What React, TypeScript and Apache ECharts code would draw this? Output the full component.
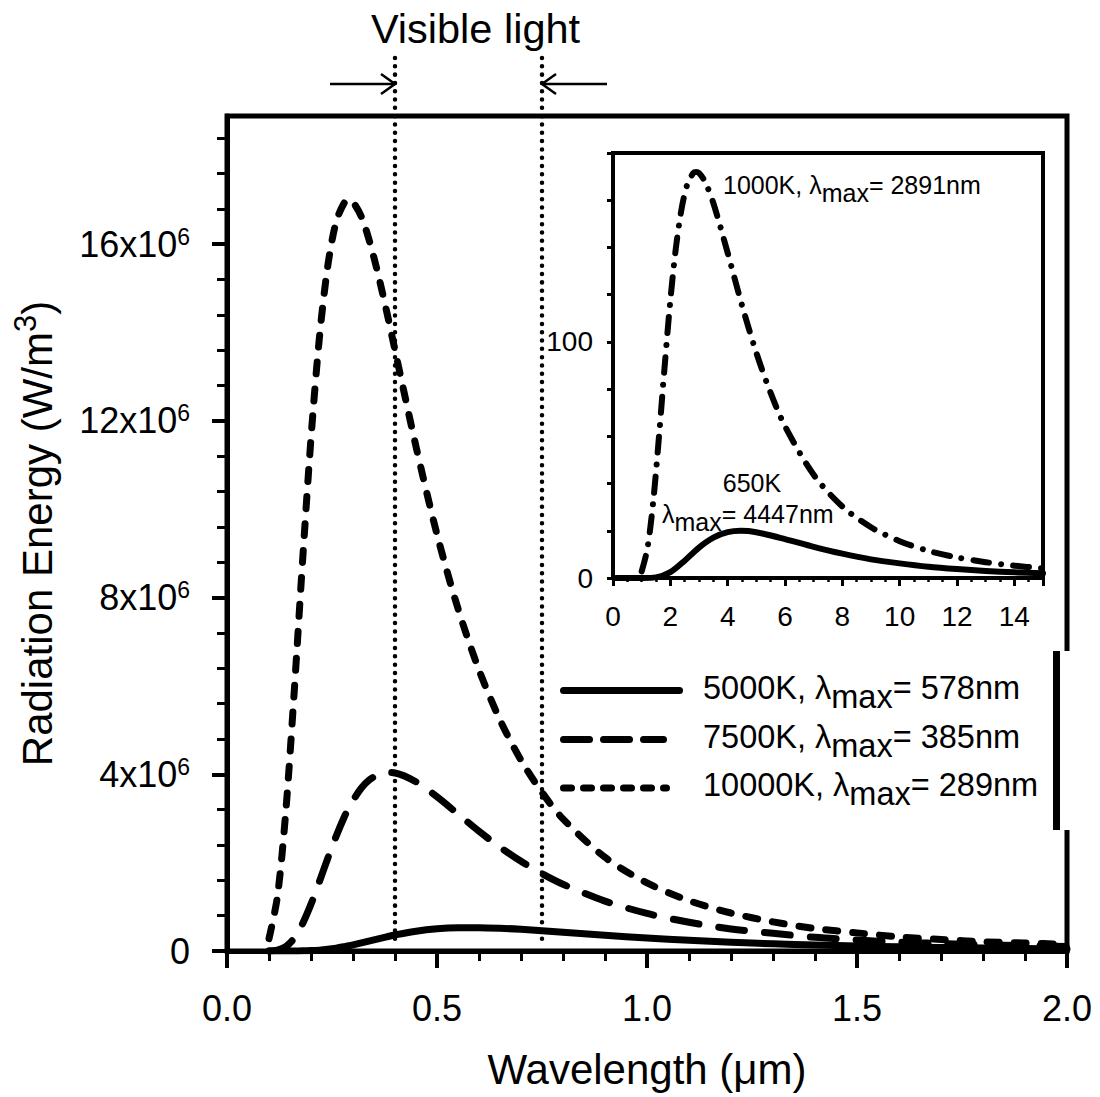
import React, { useEffect, useRef } from "react";
import * as echarts from "echarts";

const FONT = '"Liberation Sans", Arial, Helvetica, sans-serif';

// Main panel: wavelength (µm) and spectral energy (W/m³)
const wavelengthMain = [
  0.1, 0.12, 0.14, 0.16, 0.18, 0.2, 0.22, 0.24, 0.26, 0.28, 0.29, 0.3, 0.32, 0.34, 0.36, 0.38, 0.4,
  0.45, 0.5, 0.55, 0.6, 0.65, 0.7, 0.75, 0.8, 0.9, 1.0, 1.1, 1.2, 1.3, 1.4, 1.5, 1.6, 1.7, 1.8, 1.9, 2.0,
];
const energy5000K = [
  0, 0, 0, 0.0007e6, 0.003e6, 0.009e6, 0.02e6, 0.039e6, 0.065e6, 0.099e6, 0.118e6, 0.139e6, 0.183e6,
  0.23e6, 0.276e6, 0.321e6, 0.363e6, 0.448e6, 0.502e6, 0.527e6, 0.529e6, 0.515e6, 0.49e6, 0.459e6,
  0.425e6, 0.357e6, 0.295e6, 0.242e6, 0.199e6, 0.163e6, 0.135e6, 0.112e6, 0.094e6, 0.079e6, 0.066e6,
  0.056e6, 0.048e6,
];
const energy7500K = [
  0, 0.02e6, 0.1e6, 0.29e6, 0.62e6, 1.06e6, 1.57e6, 2.1e6, 2.6e6, 3.05e6, 3.24e6, 3.41e6, 3.69e6, 3.88e6,
  3.99e6, 4.04e6, 4.03e6, 3.83e6, 3.49e6, 3.1e6, 2.71e6, 2.35e6, 2.03e6, 1.75e6, 1.51e6, 1.13e6, 0.85e6,
  0.65e6, 0.5e6, 0.4e6, 0.31e6, 0.25e6, 0.2e6, 0.17e6, 0.14e6, 0.12e6, 0.1e6,
];
const energy10000K = [
  0.28e6, 1.23e6, 3.16e6, 5.86e6, 8.84e6, 11.61e6, 13.88e6, 15.51e6, 16.51e6, 16.95e6, 17.0e6, 16.95e6,
  16.62e6, 16.04e6, 15.31e6, 14.48e6, 13.6e6, 11.42e6, 9.43e6, 7.75e6, 6.36e6, 5.23e6, 4.32e6, 3.59e6,
  2.99e6, 2.12e6, 1.54e6, 1.14e6, 0.86e6, 0.66e6, 0.51e6, 0.41e6, 0.32e6, 0.26e6, 0.21e6, 0.18e6, 0.15e6,
];

// Inset panel: infrared curves
const wavelength1000K = [
  1.0, 1.2, 1.4, 1.6, 1.8, 2.0, 2.2, 2.4, 2.6, 2.8, 2.9, 3.0, 3.2, 3.5, 4.0, 4.5, 5.0, 5.5, 6.0, 7.0, 8.0,
  9.0, 10, 11, 12, 13, 14, 15,
];
const energy1000K = [
  2.8, 12.5, 32.0, 59.3, 89.4, 117.5, 140.4, 156.9, 167.0, 171.5, 172.0, 171.5, 168.1, 158.8, 137.7, 115.5,
  95.4, 78.4, 64.3, 43.7, 30.3, 21.5, 15.6, 11.5, 8.7, 6.7, 5.2, 4.1,
];
const wavelength650K = [0.1, 0.5, 1.0, 1.5, 2.0, 2.5, 3.0, 3.5, 4.0, 4.45, 5.0, 6.0, 7.0, 8.0, 9.0, 10, 11, 12, 13, 14, 15];
const energy650K = [0, 0, 0, 0.26, 2.45, 7.33, 12.9, 17.1, 19.4, 20.0, 19.4, 16.5, 13.2, 10.3, 7.9, 6.2, 4.8, 3.8, 3.0, 2.4, 1.96];

// Visible band limits (µm)
const visibleBand = [0.4, 0.75];

const mainYTicks = [0, 4e6, 8e6, 12e6, 16e6];

const legendEntries = [
  { temperature: "5000K", peak: "578nm", dash: null as number[] | null, end: 679.5 },
  { temperature: "7500K", peak: "385nm", dash: [26, 14], end: 663.5 },
  { temperature: "10000K", peak: "289nm", dash: [8, 12], end: 666.5 },
];
const legendRowsY = [690.5, 739.5, 788];

const pairs = (xs: number[], ys: number[]) => xs.map((x, i) => [x, ys[i]]);

const black = "#000";

function buildOption(): echarts.EChartsOption {
  return {
    animation: false,
    backgroundColor: "#fff",
    grid: [
      {
        left: 227,
        top: 116,
        width: 840,
        height: 835,
        containLabel: false,
        outerBoundsMode: "none",
        show: true,
        borderColor: black,
        borderWidth: 5,
        backgroundColor: "transparent",
      } as any,
      {
        left: 613,
        top: 153,
        width: 430,
        height: 425,
        containLabel: false,
        outerBoundsMode: "none",
        show: true,
        borderColor: black,
        borderWidth: 4,
        backgroundColor: "#fff",
      } as any,
    ],
    xAxis: [
      {
        type: "value",
        gridIndex: 0,
        min: 0,
        max: 2,
        interval: 0.5,
        axisLine: { show: true, onZero: false, lineStyle: { color: black, width: 5 } },
        axisTick: { show: true, inside: false, length: 17, lineStyle: { color: black, width: 4 } },
        minorTick: { show: true, splitNumber: 5, length: 10, lineStyle: { color: black, width: 3 } },
        splitLine: { show: false },
        axisLabel: { fontSize: 36, color: black, fontFamily: FONT, margin: 39, formatter: (v: number) => v.toFixed(1) },
        name: "Wavelength (μm)",
        nameLocation: "middle",
        nameGap: 97,
        nameTextStyle: { fontSize: 42, color: black, fontFamily: FONT },
      },
      {
        type: "value",
        gridIndex: 1,
        min: 0,
        max: 15,
        interval: 2,
        axisLine: { show: true, onZero: false, lineStyle: { color: black, width: 4 } },
        axisTick: { show: true, inside: false, length: 8, lineStyle: { color: black, width: 3 } },
        minorTick: { show: true, splitNumber: 4, length: 4, lineStyle: { color: black, width: 2.5 } },
        splitLine: { show: false },
        axisLabel: {
          fontSize: 28,
          color: black,
          fontFamily: FONT,
          margin: 24,
          formatter: (v: number) => (v % 2 === 0 ? String(v) : ""),
        },
      },
    ],
    yAxis: [
      {
        type: "value",
        gridIndex: 0,
        min: 0,
        max: 18.9e6,
        interval: 4e6,
        axisLine: { show: true, onZero: false, lineStyle: { color: black, width: 5 } },
        axisTick: { show: true, inside: false, length: 15, lineStyle: { color: black, width: 4 }, customValues: mainYTicks } as any,
        minorTick: { show: true, splitNumber: 5, length: 10, lineStyle: { color: black, width: 3 } },
        splitLine: { show: false },
        axisLabel: {
          fontSize: 36,
          color: black,
          fontFamily: FONT,
          margin: 37,
          formatter: (v: number) => {
            if (!mainYTicks.includes(v)) return "";
            return v === 0 ? "0" : `${v / 1e6}x10{sup|6}`;
          },
          rich: {
            sup: { fontSize: 23, fontFamily: FONT, color: black, padding: [0, 0, 15, 0] },
          },
        },
        name: "Radiation Energy (W/m{sup|3})",
        nameLocation: "middle",
        nameGap: 162,
        nameTextStyle: {
          fontSize: 42,
          color: black,
          fontFamily: FONT,
          rich: { sup: { fontSize: 31, fontFamily: FONT, color: black, padding: [0, 0, 24, 0] } },
        },
      },
      {
        type: "value",
        gridIndex: 1,
        min: 0,
        max: 180,
        interval: 20,
        axisLine: { show: true, onZero: false, lineStyle: { color: black, width: 4 } },
        axisTick: { show: true, inside: false, length: 6, lineStyle: { color: black, width: 3 } },
        splitLine: { show: false },
        axisLabel: {
          fontSize: 28,
          color: black,
          fontFamily: FONT,
          margin: 20,
          formatter: (v: number) => (v === 0 || v === 100 ? String(v) : ""),
        },
      },
    ],
    series: [
      {
        name: "5000K",
        type: "line",
        xAxisIndex: 0,
        yAxisIndex: 0,
        data: pairs(wavelengthMain, energy5000K),
        showSymbol: false,
        smooth: 0.3,
        lineStyle: { color: black, width: 7, cap: "round", join: "round" },
        z: 3,
      },
      {
        name: "7500K",
        type: "line",
        xAxisIndex: 0,
        yAxisIndex: 0,
        data: pairs(wavelengthMain, energy7500K),
        showSymbol: false,
        smooth: 0.3,
        lineStyle: { color: black, width: 7, type: [26, 20], cap: "round", join: "round" },
        z: 3,
      },
      {
        name: "10000K",
        type: "line",
        xAxisIndex: 0,
        yAxisIndex: 0,
        data: pairs(wavelengthMain, energy10000K),
        showSymbol: false,
        smooth: 0.3,
        lineStyle: { color: black, width: 7, type: [12, 15], cap: "round", join: "round" },
        z: 3,
      },
      {
        name: "1000K",
        type: "line",
        xAxisIndex: 1,
        yAxisIndex: 1,
        data: pairs(wavelength1000K, energy1000K),
        showSymbol: false,
        smooth: 0.3,
        lineStyle: { color: black, width: 6, type: [16, 12, 0.01, 12], cap: "round", join: "round" },
        z: 3,
      },
      {
        name: "650K",
        type: "line",
        xAxisIndex: 1,
        yAxisIndex: 1,
        data: pairs(wavelength650K, energy650K),
        showSymbol: false,
        smooth: 0.3,
        lineStyle: { color: black, width: 6, cap: "round", join: "round" },
        z: 3,
      },
    ],
  };
}

function richLabel(main: string, peak: string) {
  return `{t|${main}, λ}{s|max}{t|= ${peak}}`;
}

function buildGraphics(chart: echarts.ECharts) {
  const bandX = visibleBand.map((v) => chart.convertToPixel({ xAxisIndex: 0 }, v) as number);
  const arrowY = 84;
  const elements: any[] = [];

  // dotted verticals marking the visible band
  bandX.forEach((x) => {
    elements.push({
      type: "line",
      z: 100,
      shape: { x1: x, y1: 58, x2: x, y2: 943 },
      style: { stroke: black, lineWidth: 4.5, lineDash: [0.01, 8.3], lineCap: "round" },
    });
  });

  // arrows pointing at the band limits
  const [xl, xr] = bandX;
  const arrow = (tip: number, dir: number) => [
    {
      type: "polyline",
      z: 100,
      shape: { points: [[tip - dir * 65, arrowY], [tip, arrowY]] },
      style: { stroke: black, lineWidth: 2.5, fill: null },
    },
    {
      type: "polyline",
      z: 100,
      shape: { points: [[tip - dir * 14, arrowY - 10], [tip, arrowY], [tip - dir * 14, arrowY + 10]] },
      style: { stroke: black, lineWidth: 2.5, fill: null },
    },
  ];
  elements.push(...arrow(xl, 1), ...arrow(xr, -1));

  elements.push({
    type: "text",
    z: 100,
    style: {
      x: (xl + xr) / 2 + 7,
      y: 28,
      text: "Visible light",
      fill: black,
      fontSize: 41.5,
      fontFamily: FONT,
      align: "center",
      verticalAlign: "middle",
    },
  });

  // legend box edge
  elements.push({ type: "rect", z: 90, shape: { x: 1049, y: 651, width: 30, height: 179 }, style: { fill: "#fff" } });
  elements.push({ type: "rect", z: 91, shape: { x: 1053, y: 651, width: 7, height: 179 }, style: { fill: black } });

  // legend samples and labels
  legendEntries.forEach((entry, i) => {
    const y = legendRowsY[i];
    elements.push({
      type: "line",
      z: 100,
      shape: { x1: 563.5, y1: y, x2: entry.end, y2: y },
      style: {
        stroke: black,
        lineWidth: 7,
        lineCap: "round",
        lineDash: entry.dash ?? undefined,
      },
    });
    elements.push({
      type: "text",
      z: 100,
      style: {
        x: 703,
        y: y - 3,
        text: richLabel(entry.temperature, entry.peak),
        fill: black,
        fontSize: 32.5,
        fontFamily: FONT,
        align: "left",
        verticalAlign: "middle",
        rich: {
          t: { fontSize: 32.5, fontFamily: FONT, fill: black },
          s: { fontSize: 32.5, fontFamily: FONT, fill: black, padding: [18, 0, 0, 0] },
        },
      },
    });
  });

  // inset annotations
  const insetRich = {
    t: { fontSize: 25, fontFamily: FONT, fill: black },
    s: { fontSize: 25, fontFamily: FONT, fill: black, padding: [16, 0, 0, 0] },
  };
  elements.push({
    type: "text",
    z: 100,
    style: {
      x: 723,
      y: 185,
      text: richLabel("1000K", "2891nm"),
      fill: black,
      fontSize: 25,
      fontFamily: FONT,
      align: "left",
      verticalAlign: "middle",
      rich: insetRich,
    },
  });
  elements.push({
    type: "text",
    z: 100,
    style: {
      x: 752,
      y: 483,
      text: "650K",
      fill: black,
      fontSize: 25,
      fontFamily: FONT,
      align: "center",
      verticalAlign: "middle",
    },
  });
  elements.push({
    type: "text",
    z: 100,
    style: {
      x: 662,
      y: 514,
      text: "{t|λ}{s|max}{t|= 4447nm}",
      fill: black,
      fontSize: 25,
      fontFamily: FONT,
      align: "left",
      verticalAlign: "middle",
      rich: insetRich,
    },
  });

  return elements;
}

export default function App() {
  const ref = useRef<HTMLDivElement>(null);

  useEffect(() => {
    if (!ref.current) return;
    const chart = echarts.init(ref.current, undefined, { renderer: "svg" });
    chart.setOption(buildOption());
    chart.setOption({ graphic: buildGraphics(chart) });
    return () => chart.dispose();
  }, []);

  return (
    <div
      ref={ref}
      style={{ position: "absolute", left: 0, top: 0, width: 1100, height: 1097, background: "#fff" }}
    />
  );
}
